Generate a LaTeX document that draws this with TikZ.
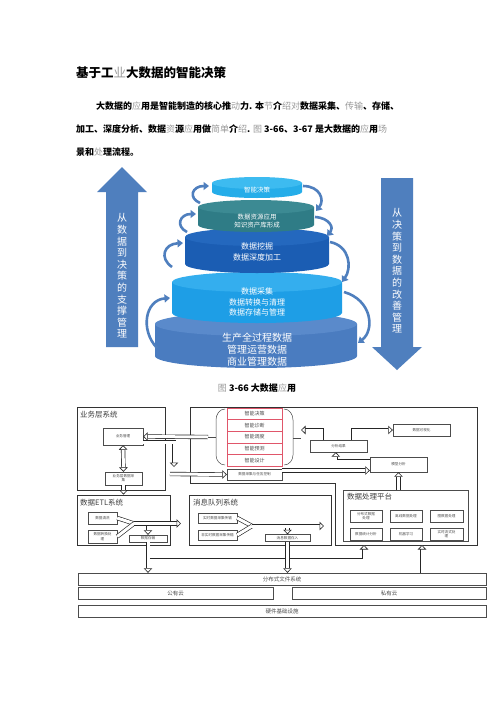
\documentclass[tikz,border=0pt]{standalone}
\usepackage{fontspec}
\setmainfont{Noto Sans CJK SC}
\usetikzlibrary{arrows.meta,calc}

\definecolor{arrowblue}{HTML}{4F7FBE}
\definecolor{tierE}{HTML}{4A7CC0}
\definecolor{tierEtop}{HTML}{5A8ACB}
\definecolor{tierD}{HTML}{1E9EE6}
\definecolor{tierDtop}{HTML}{34AEEE}
\definecolor{tierC}{HTML}{1B5DB3}
\definecolor{tierCtop}{HTML}{2468BE}
\definecolor{tierB}{HTML}{2F7C86}
\definecolor{tierBtop}{HTML}{3C8A93}
\definecolor{tierA}{HTML}{25ADE9}
\definecolor{tierAtop}{HTML}{3DBBF0}
\definecolor{zhired}{HTML}{E0566A}

\newcommand{\pale}[1]{{\mdseries\color{black!40}#1}}

\tikzset{
  bodyline/.style={anchor=west, inner sep=0pt, font=\fontsize{9}{11}\selectfont\bfseries},
  tiertext/.style={text=white, align=center, inner sep=0pt},
  turnarrow/.style={draw=arrowblue, line width=2.6pt, -{Triangle[length=5.5pt,width=8pt]}},
  frame/.style={draw=black!80, line width=0.9pt, inner sep=0pt},
  box/.style={draw=black!70, line width=0.4pt, inner sep=0pt, align=center,
    text=black!70, font=\fontsize{3.6}{4.2}\selectfont},
  framelabel/.style={anchor=west, inner sep=0pt, text=black!75, font=\fontsize{7.5}{8}\selectfont},
  hollowline/.style={draw=black!85, line width=0.65pt, double=white, double distance=3pt},
  hollow/.style={hollowline, -{Triangle[open,fill=white,line width=0.65pt,length=4.5pt,width=8.5pt]}},
  hollowtwo/.style={hollowline, {Triangle[open,fill=white,line width=0.65pt,length=4.5pt,width=8.5pt]}-{Triangle[open,fill=white,line width=0.65pt,length=4.5pt,width=8.5pt]}},
}

\begin{document}
\begin{tikzpicture}[x=1pt,y=-1pt]
\fill[white] (0,0) rectangle (500,707);
\useasboundingbox (0,0) rectangle (500,707);

% heading and paragraph
\node[anchor=west, inner sep=0pt, font=\fontsize{12.5}{14}\selectfont\bfseries] (title) at (76,73) {基于工\pale{业}大数据的智能决策};
\node[bodyline] (line1) at (96,106) {大数据的\pale{应}用是智能制造的核心推\pale{动}力. 本\pale{节}介\pale{绍对}数据采集、\pale{传输}、存储、};
\node[bodyline] (line2) at (76,129) {加工、深度分析、数据\pale{资}源\pale{应}用做\pale{简单}介\pale{绍}. \pale{图} 3-66、3-67 是大数据的\pale{应}用\pale{场}};
\node[bodyline] (line3) at (76,152) {景和\pale{处}理流程。};

% side arrows
\fill[arrowblue] (106,347) -- (106,192) -- (97,192) -- (122,167) -- (147,192) -- (138,192) -- (138,347) -- cycle;
\fill[arrowblue] (381,178) -- (381,347) -- (372,347) -- (397,370) -- (422,347) -- (413,347) -- (413,178) -- cycle;
\node[tiertext, font=\fontsize{10}{11.6}\selectfont] (uptext) at (122,276) {从\\数\\据\\到\\决\\策\\的\\支\\撑\\管\\理};
\node[tiertext, font=\fontsize{10}{11.6}\selectfont] (downtext) at (397,271) {从\\决\\策\\到\\数\\据\\的\\改\\善\\管\\理};

% tiers, bottom first
\foreach \cx/\yt/\yb/\rx/\ry/\cbody/\ctop in {
    256/324/356/101/12/tierE/tierEtop,
    257/282/313/85/10/tierD/tierDtop,
    257/237/264/72/9/tierC/tierCtop,
    256/207/225/58/7/tierB/tierBtop,
    257/183/192/45/6/tierA/tierAtop}
{
  \fill[\cbody] (\cx-\rx,\yt) -- (\cx-\rx,\yb) arc[start angle=180,end angle=0,x radius=\rx,y radius=\ry] -- (\cx+\rx,\yt) -- cycle;
  \fill[\ctop] (\cx,\yt) ellipse[x radius=\rx,y radius=\ry];
}
\node[tiertext, font=\fontsize{6.5}{8}\selectfont] (tierone) at (257,190) {智能决策};
\node[tiertext, font=\fontsize{6.5}{8}\selectfont] (tiertwo) at (257,221) {数据资源应用\\知识资产库形成};
\node[tiertext, font=\fontsize{8}{11}\selectfont] (tierthree) at (257,252) {数据挖掘\\数据深度加工};
\node[tiertext, font=\fontsize{8}{10.5}\selectfont] (tierfour) at (257,302) {数据采集\\数据转换与清理\\数据存储与管理};
\node[tiertext, font=\fontsize{10}{12}\selectfont] (tierfive) at (257,350) {生产全过程数据\\管理运营数据\\商业管理数据};

% curved arrows between tiers
\draw[turnarrow] (200,203) .. controls (188,198) and (192,186) .. (209,186);
\draw[turnarrow] (187,232) .. controls (175,226) and (180,214) .. (196,214);
\draw[turnarrow] (172,267) .. controls (159,258) and (164,244) .. (183,243);
\draw[turnarrow] (157,348) .. controls (140,330) and (145,300) .. (170,298);
\draw[turnarrow] (303,186) .. controls (320,186) and (325,200) .. (316,211);
\draw[turnarrow] (315,217) .. controls (330,218) and (334,228) .. (327,236);
\draw[turnarrow] (330,242) .. controls (350,246) and (352,268) .. (342,282);
\draw[turnarrow] (344,292) .. controls (372,300) and (375,330) .. (358,343);

\node[inner sep=0pt, font=\fontsize{9}{11}\selectfont\bfseries] (capone) at (257,388) {\pale{图} 3-66 大数据\pale{应}用};

% business layer
\node[frame, minimum width=88, minimum height=83] (yw) at (121,448.5) {};
\node[framelabel] (ywlabel) at (80,415) {业务层系统};
\node[box, minimum width=40, minimum height=17] (ywgl) at (123,436.5) {业务管理};
\node[box, minimum width=37, minimum height=13] (ywcj) at (123.5,478.5) {业务层数据采\\集};

% decision frame
\draw[frame] (190,407) -- (477,407) -- (477,545) -- (335,545) -- (335,483) -- (190,483) -- cycle;
\foreach \name [count=\i] in {智能决策,智能诊断,智能调度,智能预测,智能设计}
  \node[box, draw=zhired, minimum width=55, minimum height=11.6, font=\fontsize{5}{6}\selectfont] (zn\i) at (254.5,402.2+11.6*\i) {\name};
\node[box, minimum width=55, minimum height=11] (cjkz) at (254.5,474.5) {数据采集与任务控制};
\node[box, minimum width=57, minimum height=12] (fxjg) at (338.5,446) {分析结果};
\node[box, minimum width=57, minimum height=12] (ksh) at (421.5,430) {数据可视化};
\node[box, minimum width=57, minimum height=15] (mxfx) at (398.5,464.5) {模型分析};
\draw[black!70, line width=0.5pt] (225,409) to[out=180,in=90] (216,420) -- (216,455) to[out=270,in=180] (225,465);
\draw[black!70, line width=0.5pt] (284,409) to[out=0,in=90] (293,420) -- (293,455) to[out=270,in=0] (284,465);
\coordinate (dashL) at (208,437);
\coordinate (dashR) at (301,438);
\draw[black!70, line width=0.5pt] (dashL) -- (216,437);
\draw[black!70, line width=0.5pt] (293,438) -- (dashR);

% data processing platform
\node[draw=black!70, line width=0.6pt, minimum width=125, minimum height=51] (clpt) at (405.5,515.5) {};
\node[framelabel] (clptlabel) at (347,497) {数据处理平台};
\node[box, minimum width=32, minimum height=12] (pa) at (366,516) {分布式数据\\处理};
\node[box, minimum width=32, minimum height=12] (pb) at (406,516) {离线数据处理};
\node[box, minimum width=33, minimum height=12] (pc) at (446.5,516) {图数据处理};
\node[box, minimum width=32, minimum height=12] (pd) at (366,534) {数据统计分析};
\node[box, minimum width=32, minimum height=12] (pe) at (406,534) {机器学习};
\node[box, minimum width=33, minimum height=12] (pf) at (446.5,534) {实时流式处\\理};

% ETL
\node[frame, minimum width=93, minimum height=50] (etl) at (123.5,520) {};
\node[framelabel] (etllabel) at (80,503) {数据ETL系统};
\node[box, minimum width=29, minimum height=12] (qx) at (102.5,518) {数据清洗};
\node[box, minimum width=29, minimum height=13] (zh) at (102.5,536.5) {数据转换处\\理};
\node[box, minimum width=38, minimum height=7] (cc) at (148,538.5) {数据存储};

% message queue
\node[frame, minimum width=142, minimum height=50] (xx) at (260,520) {};
\node[framelabel] (xxlabel) at (193,503) {消息队列系统};
\node[box, minimum width=39, minimum height=10] (xa) at (217.5,518) {实时数据采集传输};
\node[box, minimum width=39, minimum height=10] (xb) at (217.5,535) {非实时数据采集传输};
\node[box, minimum width=45, minimum height=7] (xr) at (287.5,538) {消息数据存入};

% base layers
\node[box, minimum width=408, minimum height=12, font=\fontsize{5.5}{6}\selectfont] (fbs) at (282,579) {分布式文件系统};
\node[box, minimum width=195, minimum height=12, font=\fontsize{5.5}{6}\selectfont] (gyy) at (175.5,593) {公有云};
\node[box, minimum width=194, minimum height=12, font=\fontsize{5.5}{6}\selectfont] (syy) at (389,593) {私有云};
\node[box, minimum width=408, minimum height=12, font=\fontsize{5.5}{6}\selectfont] (yj) at (282,611) {硬件基础设施};

% hollow arrows
\draw[hollowtwo] (ywgl.south) -- (ywcj.north);
\draw[hollow] (ywcj.south) -- (etl.north);
\draw[hollow] (dashL) -- (ywgl.east);
\draw[hollow] ($(ywgl.south east)+(0,-3)$) -| (174,467);
\draw[hollow] (170,474) -- (cjkz.west);
\draw[hollow] ($(fxjg.north west)+(12,0)$) |- (dashR |- 0,430);
\draw[hollow] ($(fxjg.north east)+(-14,0)$) |- (ksh.west);
\draw[hollow] ($(mxfx.west)+(0,-3.5)$) -| ($(fxjg.south west)+(26,0)$);
\draw[hollow] ($(cjkz.east)+(0,-4)$) -- ($(mxfx.west)+(0,6)$);
\draw[hollow] (mxfx.south |- clpt.north) -- (mxfx.south);

\coordinate (etlapex) at (134,523.5);
\draw[hollowline] (qx.east) -- (etlapex);
\draw[hollowline] (zh.east) -- (etlapex);
\draw[hollow] (etlapex) -- (181,523.5);
\draw[hollow] (148,525.5) -- (cc.north);
\draw[hollow] (cc.south) -- (cc.south |- fbs.north);
\coordinate (clin) at (364,545);
\draw[hollow] (149.8,560) -| (clin);

\coordinate (xxapex) at (252,526);
\draw[hollowline] (xa.east) -- (xxapex);
\draw[hollowline] (xb.east) -- (xxapex);
\draw[hollow] (xxapex) -- (324,526);
\draw[hollow] (287.5,528) -- (xr.north);
\draw[hollow] (xr.south) -- (xr.south |- fbs.north);
\coordinate (clpin) at (422,545);
\draw[hollow] (clpin |- fbs.north) -- (clpin);

\end{tikzpicture}
\end{document}
